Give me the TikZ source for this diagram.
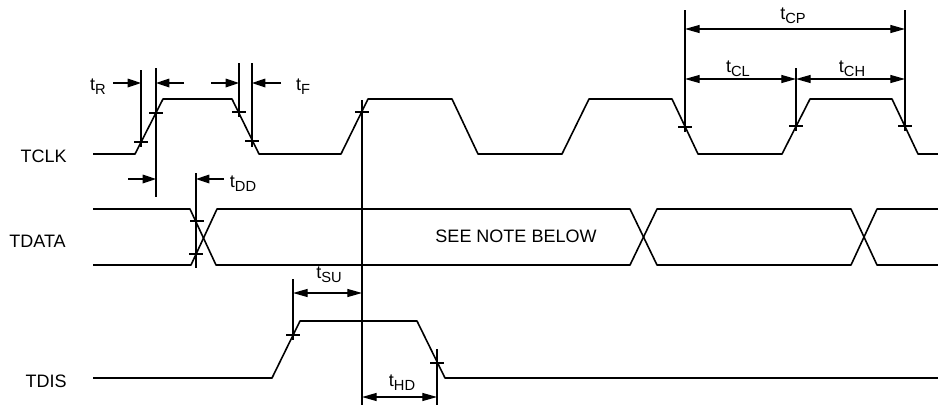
\documentclass[tikz,border=0pt]{standalone}
\usepackage{fontspec}
\setmainfont{Liberation Sans}
\usetikzlibrary{arrows.meta}
\newcommand{\tsub}[1]{t\raisebox{-0.45ex}{\fontsize{11}{11}\selectfont #1}}
\begin{document}
\begin{tikzpicture}[x=0.75pt,y=-0.75pt,
  wave/.style={line width=1.2pt, line join=round},
  dimline/.style={line width=0.9pt},
  arr/.style={dimline,-{Triangle[length=10pt,width=6.5pt]}},
  darr/.style={dimline,{Triangle[length=11pt,width=6pt]}-{Triangle[length=11pt,width=6pt]}},
  sig/.style={font=\fontsize{13.5}{13.5}\selectfont, anchor=east, inner sep=0pt},
  lbl/.style={font=\fontsize{13.5}{13.5}\selectfont, inner sep=0pt},
]
\useasboundingbox (0,0) rectangle (938,408);

% ---------- signal names
\node[sig] (nclk) at (67,156) {TCLK};
\node[sig] (ndata) at (66,241) {TDATA};
\node[sig] (ndis) at (67,381) {TDIS};

% ---------- TCLK waveform
\coordinate (c0) at (93,154);
\coordinate (c1) at (135,154);
\coordinate (c2) at (163,99);
\coordinate (c3) at (232,99);
\coordinate (c4) at (259,154);
\coordinate (c5) at (341,154);
\coordinate (c6) at (368,99);
\coordinate (c7) at (452,99);
\coordinate (c8) at (478,154);
\coordinate (c9) at (562,154);
\coordinate (c10) at (589,99);
\coordinate (c11) at (672,99);
\coordinate (c12) at (698,154);
\coordinate (c13) at (782,154);
\coordinate (c14) at (810,99);
\coordinate (c15) at (892,99);
\coordinate (c16) at (918,154);
\coordinate (c17) at (938,154);
\draw[wave] (c0) -- (c1) -- (c2) -- (c3) -- (c4) -- (c5) -- (c6) -- (c7) -- (c8)
  -- (c9) -- (c10) -- (c11) -- (c12) -- (c13) -- (c14) -- (c15) -- (c16) -- (c17);

% ---------- TDATA waveform
\coordinate (d0t) at (93,209);
\coordinate (d0b) at (93,265);
\coordinate (d1t) at (190,209);
\coordinate (d1b) at (191,265);
\coordinate (d2t) at (217,209);
\coordinate (d2b) at (216,265);
\coordinate (d3t) at (630,209);
\coordinate (d3b) at (630,265);
\coordinate (d4t) at (657,209);
\coordinate (d4b) at (657,265);
\coordinate (d5t) at (851,209);
\coordinate (d5b) at (851,265);
\coordinate (d6t) at (877,209);
\coordinate (d6b) at (877,265);
\coordinate (d7t) at (938,209);
\coordinate (d7b) at (938,265);
\draw[wave] (d0t) -- (d1t) -- (d2b) -- (d3b) -- (d4t) -- (d5t) -- (d6b) -- (d7b);
\draw[wave] (d0b) -- (d1b) -- (d2t) -- (d3t) -- (d4b) -- (d5b) -- (d6t) -- (d7t);
\node[lbl] (note) at (516,236) {SEE NOTE BELOW};

% ---------- TDIS waveform
\coordinate (e0) at (93,378);
\coordinate (e1) at (272,378);
\coordinate (e2) at (300,321);
\coordinate (e3) at (417,321);
\coordinate (e4) at (445,378);
\coordinate (e5) at (938,378);
\draw[wave] (e0) -- (e1) -- (e2) -- (e3) -- (e4) -- (e5);

% ---------- crossing ticks
\foreach \p in {(141,142),(156,113),(239,112),(252,141),(362,112),(685,127),(796,126),(905,126),(197,221),(196,254),(293,335),(437,363)}{
  \draw[dimline] \p ++(-7,0) -- ++(14,0);
}

% ---------- vertical reference lines
\coordinate (vr1a) at (141,70);   \coordinate (vr1b) at (141,147);
\coordinate (vr2a) at (156,68);   \coordinate (vr2b) at (156,197);
\coordinate (vf1a) at (239,63);   \coordinate (vf1b) at (239,117);
\coordinate (vf2a) at (252,63);   \coordinate (vf2b) at (252,147);
\coordinate (vdda) at (196,173);  \coordinate (vddb) at (196,268);
\coordinate (vma) at (362,100);   \coordinate (vmb) at (362,405);
\coordinate (vsua) at (293,279);  \coordinate (vsub) at (293,340);
\coordinate (vhda) at (437,349);  \coordinate (vhdb) at (437,405);
\coordinate (vp1a) at (685,10);   \coordinate (vp1b) at (685,132);
\coordinate (vp2a) at (796,68);   \coordinate (vp2b) at (796,131);
\coordinate (vp3a) at (905,10);   \coordinate (vp3b) at (905,131);
\foreach \a/\b in {vr1a/vr1b,vr2a/vr2b,vf1a/vf1b,vf2a/vf2b,vdda/vddb,vma/vmb,vsua/vsub,vhda/vhdb,vp1a/vp1b,vp2a/vp2b,vp3a/vp3b}{
  \draw[dimline] (\a) -- (\b);
}

% ---------- t_R
\coordinate (trl) at (113,83);  \coordinate (trl2) at (141,83);
\coordinate (trr) at (184,83);  \coordinate (trr2) at (156,83);
\draw[arr] (trl) -- (trl2);
\draw[arr] (trr) -- (trr2);
\node[lbl] (ltr) at (98,87) {\tsub{R}};

% ---------- t_F
\coordinate (tfl) at (211,83);  \coordinate (tfl2) at (239,83);
\coordinate (tfr) at (281,83);  \coordinate (tfr2) at (252,83);
\draw[arr] (tfl) -- (tfl2);
\draw[arr] (tfr) -- (tfr2);
\node[lbl] (ltf) at (303,87) {\tsub{F}};

% ---------- t_DD
\coordinate (tdl) at (128,179);  \coordinate (tdl2) at (156,179);
\coordinate (tdr) at (224,179);  \coordinate (tdr2) at (196,179);
\draw[arr] (tdl) -- (tdl2);
\draw[arr] (tdr) -- (tdr2);
\node[lbl] (ltdd) at (243,184) {\tsub{DD}};

% ---------- t_CP, t_CL, t_CH
\coordinate (cp1) at (685,29);  \coordinate (cp2) at (905,29);
\coordinate (cl1) at (685,79);  \coordinate (cl2) at (796,79);
\coordinate (ch1) at (796,79);  \coordinate (ch2) at (905,79);
\draw[darr] (cp1) -- (cp2);
\draw[darr] (cl1) -- (cl2);
\draw[darr] (ch1) -- (ch2);
\node[lbl] (ltcp) at (793,16) {\tsub{CP}};
\node[lbl] (ltcl) at (738,69) {\tsub{CL}};
\node[lbl] (ltch) at (852,69) {\tsub{CH}};

% ---------- t_SU, t_HD
\coordinate (su1) at (293,293);  \coordinate (su2) at (362,293);
\coordinate (hd1) at (362,397);  \coordinate (hd2) at (437,397);
\draw[darr] (su1) -- (su2);
\draw[darr] (hd1) -- (hd2);
\node[lbl] (ltsu) at (329,275) {\tsub{SU}};
\node[lbl] (lthd) at (402,383) {\tsub{HD}};
\end{tikzpicture}
\end{document}
